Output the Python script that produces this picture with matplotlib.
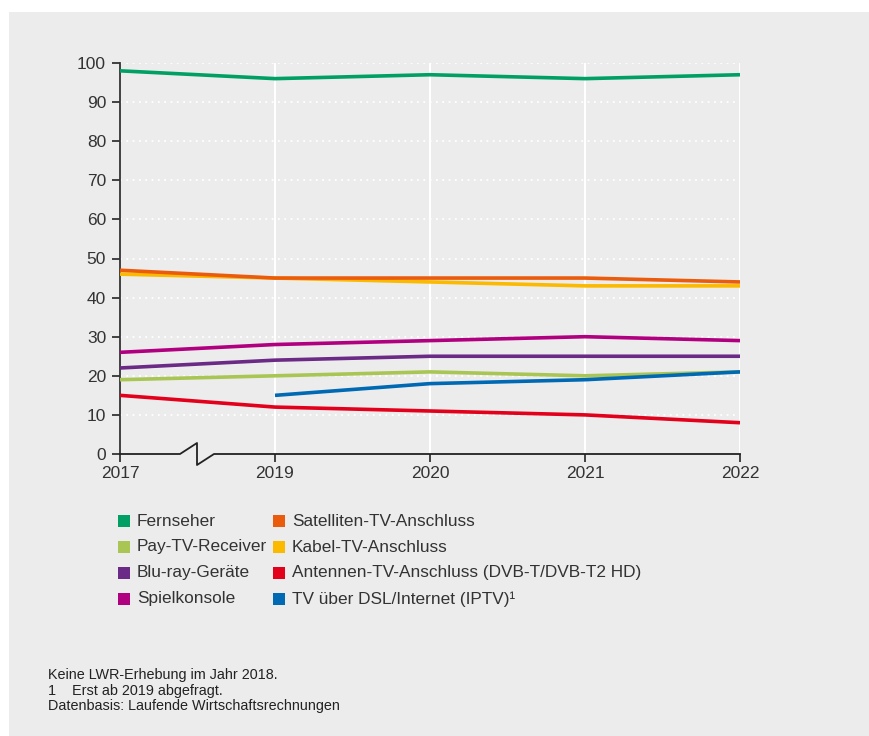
import numpy as np
import matplotlib
import matplotlib.pyplot as plt
from matplotlib.patches import Rectangle
from matplotlib.lines import Line2D

matplotlib.use('Agg')

plt.rcParams['font.family'] = ['Liberation Sans', 'DejaVu Sans']

years = ['2017', '2019', '2020', '2021', '2022']

fernseher = [98, 96, 97, 96, 97]
satellit = [47, 45, 45, 45, 44]
kabel = [46, 45, 44, 43, 43]
spielkonsole = [26, 28, 29, 30, 29]
bluray = [22, 24, 25, 25, 25]
paytv = [19, 20, 21, 20, 21]
iptv = [np.nan, 15, 18, 19, 21]
antenne = [15, 12, 11, 10, 8]

series = [
    ('Fernseher', fernseher, '#00a065'),
    ('Pay-TV-Receiver', paytv, '#a9c654'),
    ('Blu-ray-Geräte', bluray, '#6b2a85'),
    ('Spielkonsole', spielkonsole, '#b1007f'),
    ('Satelliten-TV-Anschluss', satellit, '#ea5b0c'),
    ('Kabel-TV-Anschluss', kabel, '#fbb900'),
    ('Antennen-TV-Anschluss (DVB-T/DVB-T2 HD)', antenne, '#e3001b'),
    ('TV über DSL/Internet (IPTV)¹', iptv, '#0069b4'),
]
# Zeichenreihenfolge wie im Original
draw_order = [1, 2, 3, 5, 4, 7, 6, 0]

bg = '#ececec'
W, H = 870, 736
fig = plt.figure(figsize=(W / 100, H / 100), dpi=100)
fig.patch.set_facecolor('white')
fig.patches.append(Rectangle((9 / W, 0), 1 - 9 / W, 1 - 12 / H,
                             transform=fig.transFigure, facecolor=bg,
                             edgecolor='none', zorder=-10))

ax = fig.add_axes([120 / W, 1 - 454 / H, 620 / W, 391 / H])
ax.set_facecolor(bg)

x = np.arange(len(years))
for i in draw_order:
    name, vals, col = series[i]
    ax.plot(x, vals, color=col, linewidth=2.6, solid_capstyle='butt', zorder=3)

ax.set_xlim(0, 4)
ax.set_ylim(0, 100)
ax.set_yticks(np.arange(0, 101, 10))
ax.set_xticks(x)
ax.set_xticklabels(years)

for yv in range(10, 101, 10):
    ax.axhline(yv, color='white', linewidth=1.3, linestyle=(0, (1, 2.5)), zorder=1)
for xv in x[1:]:
    ax.axvline(xv, color='white', linewidth=1.5, zorder=1)

for s in ['top', 'right', 'bottom']:
    ax.spines[s].set_visible(False)
ax.spines['left'].set_color('#333333')
ax.spines['left'].set_linewidth(1.3)

# x-Achse mit Achsenbruch
u = 1 / 155
bx = [0, 60 * u, 77 * u, 77 * u, 94 * u, 4]
by = [0, 0, 11 / 3.91, -11 / 3.91, 0, 0]
ax.add_line(Line2D(bx, by, color='#222222', linewidth=1.3, clip_on=False, zorder=4))

ax.tick_params(axis='both', colors='#333333', labelcolor='#333333', labelsize=12.5,
               length=6, width=1.3)
ax.tick_params(axis='x', pad=3)
ax.tick_params(axis='y', pad=4)

# Legende
rows = [521, 547, 573, 599]
cols = [(118, 137), (273, 292)]
for k, (name, vals, col) in enumerate(series):
    c = cols[k // 4]
    yc = rows[k % 4]
    fig.patches.append(Rectangle((c[0] / W, 1 - (yc + 6) / H), 12 / W, 12 / H,
                                 transform=fig.transFigure, facecolor=col,
                                 edgecolor='none'))
    fig.text(c[1] / W, 1 - yc / H, name, fontsize=12.4, color='#333333',
             va='center', ha='left')

notes = ['Keine LWR-Erhebung im Jahr 2018.',
         '1    Erst ab 2019 abgefragt.',
         'Datenbasis: Laufende Wirtschaftsrechnungen']
for j, t in enumerate(notes):
    fig.text(48 / W, 1 - (675 + 15.5 * j) / H, t, fontsize=10.4, color='#222222',
             va='center', ha='left')

fig.savefig('out.png', dpi=100, facecolor=fig.get_facecolor())
